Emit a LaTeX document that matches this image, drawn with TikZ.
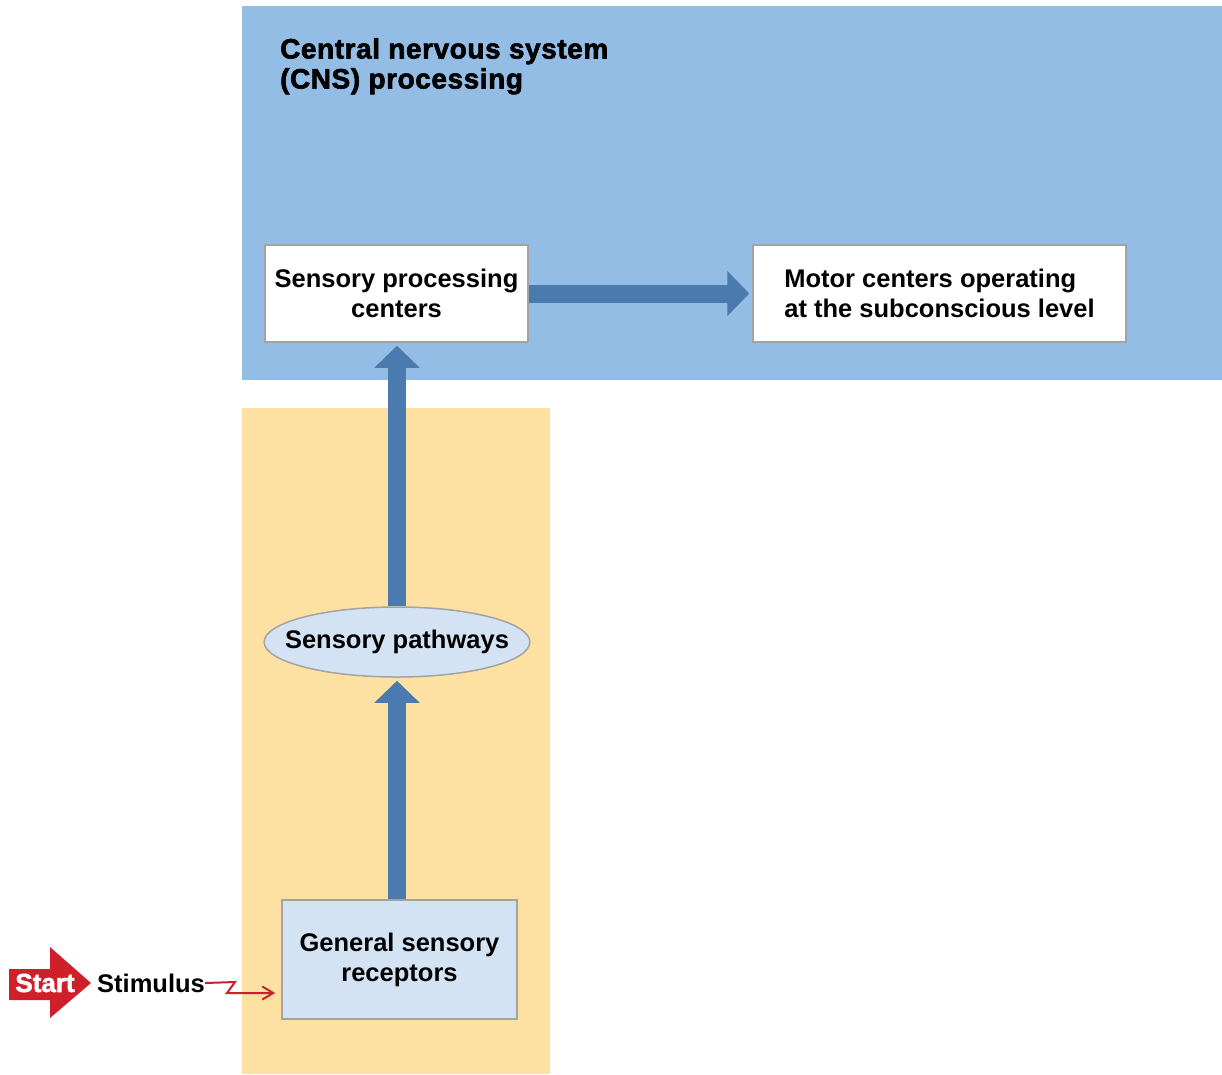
\documentclass[tikz,border=0pt]{standalone}
\usepackage{fontspec}
\setmainfont{Liberation Sans}
\newfontfamily\heavyfont[FakeBold=2.2,LetterSpace=2]{Liberation Sans Bold}
\newfontfamily\startfont[FakeBold=2.2]{Liberation Sans Bold}
\usetikzlibrary{arrows.meta,shapes.geometric}
\definecolor{cnsblue}{HTML}{94BDE5}
\definecolor{pnsyellow}{HTML}{FDE1A2}
\definecolor{arrblue}{HTML}{4A7AAE}
\definecolor{lightfill}{HTML}{D4E3F4}
\definecolor{edgegray}{HTML}{A3A3A3}
\definecolor{startred}{HTML}{CE1F2B}
\tikzset{
  txt/.style={font=\bfseries\fontsize{25.5}{30}\selectfont, text=black},
  whitebox/.style={txt, draw=edgegray, line width=1.5pt, fill=white, inner sep=0pt, align=center},
  bluebox/.style={txt, draw=edgegray, line width=1.5pt, fill=lightfill, inner sep=0pt, align=center},
  bigarrow/.style={draw=arrblue, line width=18pt, -{Triangle[width=44pt,length=22pt]}},
  zig/.style={draw=startred, line width=2pt, -{Straight Barb[length=11pt,width=13pt]}},
}
\begin{document}
\begin{tikzpicture}[x=1pt,y=-1pt]
\useasboundingbox (0,0) rectangle (1222,1074);
% backgrounds
\fill[cnsblue] (242,6) rectangle (1222,380);
\fill[pnsyellow] (242,408) rectangle (550,1074);
% title
\node[text=black, font=\heavyfont\fontsize{28}{30}\selectfont, anchor=north west, align=left, inner sep=0pt] (title) at (280,38)
  {Central nervous system\\(CNS) processing};
% boxes
\node[whitebox, minimum width=263pt, minimum height=97pt] (spc) at (396.5,293.5) {Sensory processing\\centers};
\node[whitebox, minimum width=373pt, minimum height=97pt, align=left] (motor) at (939.5,293.5) {Motor centers operating\\at the subconscious level};
\node[bluebox, ellipse, inner xsep=-18pt, inner ysep=0pt, minimum width=264pt, minimum height=70pt] (path) at (397,642) {Sensory pathways};
\node[bluebox, minimum width=235pt, minimum height=119pt] (rec) at (399.5,959.5) {General sensory\\receptors};
% arrows
\draw[bigarrow, shorten >=3pt] (spc.east) -- (motor.west);
\draw[bigarrow, shorten >=3pt] (path.north) -- (path.north |- spc.south);
\draw[bigarrow, shorten >=3pt] (path.south |- rec.north) -- (path.south);
% start arrow
\fill[startred] (9,969) -- (50,969) -- (50,947) -- (91,983) -- (50,1018) -- (50,1000) -- (9,1000) -- cycle;
\node[font=\startfont\fontsize{26}{30}\selectfont, text=white, inner sep=0pt] (start) at (45,983) {Start};
\node[txt, anchor=west, inner sep=0pt] (stim) at (97,983) {Stimulus};
\coordinate (z1) at (235,982);
\coordinate (z2) at (227,993);
\draw[zig, shorten >=6pt] (stim.east) -- (z1) -- (z2) -- (z2 -| rec.west);
\end{tikzpicture}
\end{document}
